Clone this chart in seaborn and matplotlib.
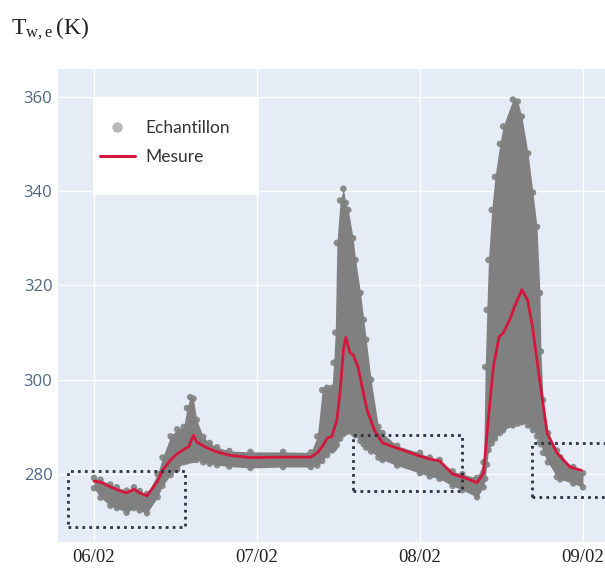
import numpy as np
import pandas as pd
import seaborn as sns
import matplotlib
matplotlib.use("Agg")
from matplotlib import pyplot as plt
import matplotlib.dates as mdates
from matplotlib.patches import Rectangle
from matplotlib.lines import Line2D

# measured wall temperature, time in days after 06/02 00:00
jours_mesure = [0.00, 0.04, 0.10, 0.14, 0.20, 0.245, 0.28, 0.325, 0.39, 0.42,
                0.47, 0.51, 0.55, 0.58, 0.61, 0.63, 0.67, 0.71, 0.755, 0.83,
                0.96, 1.16, 1.33, 1.37, 1.40, 1.43, 1.46, 1.47, 1.49, 1.51,
                1.53, 1.545, 1.57, 1.59, 1.62, 1.64, 1.675, 1.72, 1.77, 1.86,
                2.00, 2.06, 2.12, 2.20, 2.26, 2.35, 2.39, 2.42, 2.45, 2.485,
                2.51, 2.55, 2.58, 2.625, 2.66, 2.69, 2.74, 2.78, 2.84, 2.92, 2.99]
mesure = [278.5, 278.3, 277.3, 276.7, 276.0, 276.8, 276.0, 275.4, 278.5, 280.8,
          283.0, 284.3, 285.2, 285.8, 288.2, 286.8, 286.0, 285.3, 284.7, 284.0,
          283.5, 283.6, 283.6, 284.5, 285.8, 287.6, 288.0, 289.3, 291.5, 297.5,
          306.3, 309.0, 305.7, 305.3, 302.7, 299.3, 293.6, 289.3, 286.6, 285.5,
          283.8, 283.2, 282.8, 280.0, 279.4, 278.2, 280.2, 292.1, 302.7, 309.1,
          309.9, 312.7, 315.5, 319.1, 316.9, 311.2, 298.5, 288.7, 284.5, 281.5, 280.8]

# lower / upper envelope of the samples (K)
jours_ech = [0.00, 0.04, 0.10, 0.14, 0.20, 0.245, 0.28, 0.325, 0.39, 0.42,
             0.47, 0.51, 0.55, 0.57, 0.59, 0.61, 0.63, 0.67, 0.71, 0.755,
             0.83, 0.96, 1.16, 1.33, 1.37, 1.40, 1.43, 1.46, 1.47, 1.48,
             1.49, 1.51, 1.53, 1.545, 1.56, 1.59, 1.605, 1.635, 1.655, 1.67,
             1.70, 1.745, 1.77, 1.86, 2.00, 2.06, 2.12, 2.20, 2.26, 2.35,
             2.39, 2.40, 2.41, 2.42, 2.44, 2.46, 2.49, 2.51, 2.57, 2.60,
             2.625, 2.663, 2.693, 2.718, 2.736, 2.742, 2.755, 2.785, 2.84, 2.86,
             2.94, 3.00]
ech_bas = [277.0, 275.0, 273.3, 272.8, 271.8, 272.8, 272.3, 271.7, 275.1, 277.5,
           279.8, 281.0, 282.5, 282.7, 282.9, 283.0, 283.0, 282.5, 282.2, 281.9,
           281.6, 281.3, 281.5, 281.5, 281.8, 282.8, 284.0, 285.0, 285.3, 285.8,
           286.2, 287.5, 288.5, 289.0, 289.0, 288.7, 288.2, 287.0, 286.3, 285.6,
           284.8, 283.5, 283.0, 281.8, 280.2, 279.5, 279.0, 277.5, 276.6, 275.1,
           277.2, 279.0, 282.0, 285.1, 286.5, 287.5, 288.7, 289.3, 290.3, 290.7,
           291.0, 290.3, 289.3, 288.0, 286.8, 286.3, 284.5, 282.5, 279.4, 278.9,
           278.0, 277.2]
ech_haut = [279.2, 278.8, 277.8, 277.2, 276.5, 277.2, 276.4, 275.8, 280.0, 283.5,
            288.0, 289.5, 290.0, 294.0, 296.3, 296.0, 291.5, 287.9, 286.6, 285.7,
            284.9, 284.7, 284.7, 284.6, 288.0, 297.8, 298.3, 298.3, 303.6, 310.0,
            329.0, 338.0, 340.5, 337.5, 336.0, 330.0, 325.4, 318.4, 312.7, 308.5,
            300.0, 290.0, 288.7, 286.0, 284.5, 283.5, 283.0, 280.6, 280.0, 279.2,
            282.5, 302.7, 314.8, 325.4, 336.0, 343.0, 350.0, 353.7, 359.4, 359.0,
            355.8, 348.0, 339.7, 332.4, 318.4, 306.0, 295.7, 288.7, 285.0, 283.6,
            281.5, 280.2]

# dotted boxes: (start day, end day, T low, T high)
boxes = [(-0.16, 0.56, 268.7, 280.6),
         (1.59, 2.26, 276.4, 288.3),
         (2.69, 3.30, 275.1, 286.6)]

t0 = pd.Timestamp("2021-02-06")
df_mes = pd.DataFrame({"date": t0 + pd.to_timedelta(jours_mesure, unit="D"),
                       "mesure": mesure})
df_ech = pd.DataFrame({"date": t0 + pd.to_timedelta(jours_ech, unit="D"),
                       "bas": ech_bas, "haut": ech_haut})

sns.set_theme(style="darkgrid", rc={"axes.facecolor": "#E5ECF6",
                                    "grid.color": "white",
                                    "grid.linewidth": 1.0})
plt.rcParams["mathtext.fontset"] = "custom"
plt.rcParams["mathtext.rm"] = "Liberation Serif"
plt.rcParams["mathtext.it"] = "Liberation Serif"

fig = plt.figure(figsize=(6.05, 5.7), dpi=100)
ax = fig.add_axes([0.0959, 0.0491, 0.9041, 0.830])

gris = "#808080"
rouge = "#d4163c"
ax.fill_between(df_ech["date"], df_ech["bas"], df_ech["haut"], color=gris,
                lw=0, zorder=2)
for col in ["bas", "haut"]:
    sns.scatterplot(data=df_ech, x="date", y=col, ax=ax, color=gris, s=22,
                    alpha=0.9, edgecolor="none", zorder=2, legend=False)
sns.lineplot(data=df_mes, x="date", y="mesure", ax=ax, color=rouge, lw=2,
             zorder=3, legend=False)

for d0, d1, lo, hi in boxes:
    x0 = mdates.date2num(t0 + pd.Timedelta(days=d0))
    x1 = mdates.date2num(t0 + pd.Timedelta(days=d1))
    ax.add_patch(Rectangle((x0, lo), x1 - x0, hi - lo, fill=False,
                           ls=(0, (1, 1.5)), lw=2, ec="#2e3040", zorder=4))

ax.set_xlim(t0 - pd.Timedelta(days=0.221), t0 + pd.Timedelta(days=3.135))
ax.set_ylim(265.6, 365.9)
ax.set_xticks([t0 + pd.Timedelta(days=i) for i in range(4)])
ax.xaxis.set_major_formatter(mdates.DateFormatter("%d/%m"))
ax.set_yticks([280, 300, 320, 340, 360])
ax.set_xlabel("")
ax.set_ylabel("")
for s in ax.spines.values():
    s.set_visible(False)
ax.tick_params(axis="y", length=0, pad=4, labelsize=12, labelcolor="#506784")
ax.tick_params(axis="x", length=0, pad=5, labelsize=13.5, labelcolor="#222222")
for lab in ax.get_yticklabels():
    lab.set_family("Open Sans")
for lab in ax.get_xticklabels():
    lab.set_family("Liberation Serif")

# legend: white panel with frameless legend inside
ax.add_patch(Rectangle((0.064, 0.7336), 0.3035, 0.2072, transform=ax.transAxes,
                       fc="white", ec="none", zorder=5))
handles = [Line2D([], [], ls="none", marker="o", ms=6.5, color="#b8b8b8"),
           Line2D([], [], color=rouge, lw=2.2)]
leg = ax.legend(handles, ["Echantillon", "Mesure"], loc="center left",
                bbox_to_anchor=(0.0768, 0.8436), frameon=False,
                prop={"family": "Lato", "size": 12.5}, labelspacing=0.75,
                borderpad=0, handlelength=2.0, handletextpad=0.6,
                borderaxespad=0)
leg.set_zorder(6)
for txt in leg.get_texts():
    txt.set_color("#333333")

fig.text(0.018, 0.94, r"$\mathrm{T_{w,e}\,(K)}$", fontsize=17, color="#222222",
         ha="left", va="baseline")

fig.savefig("out.png", dpi=100)
